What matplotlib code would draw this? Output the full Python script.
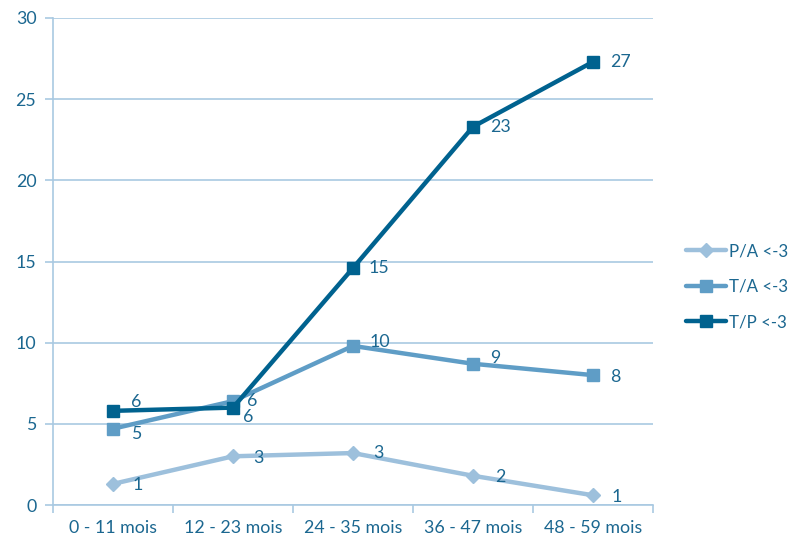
import matplotlib
matplotlib.use("Agg")
import matplotlib.pyplot as plt

categories = ["0 - 11 mois", "12 - 23 mois", "24 - 35 mois", "36 - 47 mois", "48 - 59 mois"]
series_names = ["P/A <-3", "T/A <-3", "T/P <-3"]
pa_values = [1.3, 3.0, 3.2, 1.8, 0.6]
ta_values = [4.7, 6.4, 9.8, 8.7, 8.0]
tp_values = [5.8, 6.0, 14.6, 23.3, 27.3]
y_ticks = [0, 5, 10, 15, 20, 25, 30]

plt.rcParams["font.family"] = ["Lato", "DejaVu Sans"]

text_color = "#1b6790"
grid_color = "#a9c9e2"
colors = ["#9dc0dc", "#5f9dc6", "#00628f"]
markers = ["D", "s", "s"]
marker_sizes = [7.5, 8, 8]
fs = 12.8
legend_fs = 12.2

# label offsets (points) per series / point
offsets = [
    [(18, -1), (18, -1), (18, 0), (20, -1), (17, -1)],
    [(17, -4), (14, 0), (19, 3), (16, 4), (16, -1)],
    [(17, 6.5), (11, -7), (19, 0), (19.5, 0), (19.5, 0)],
]

fig = plt.figure(figsize=(7.92, 5.42), dpi=100)
ax = fig.add_axes([53 / 792, 37 / 542, 600 / 792, 487 / 542])

x = list(range(len(categories)))
all_values = [pa_values, ta_values, tp_values]
for name, vals, c, m, ms, offs in zip(series_names, all_values, colors, markers, marker_sizes, offsets):
    ax.plot(x, vals, color=c, lw=3.2, marker=m, markersize=ms, label=name,
            solid_capstyle="round", zorder=3)
    for xi, v, (dx, dy) in zip(x, vals, offs):
        ax.annotate(f"{v:.0f}", (xi, v), xytext=(dx, dy), textcoords="offset points",
                    ha="center", va="center", fontsize=fs, color=text_color, zorder=4)

ax.set_xlim(-0.5, len(categories) - 0.5)
ax.set_ylim(0, 30)
ax.set_yticks(y_ticks)
ax.set_xticks(x)
ax.set_xticklabels(categories)
ax.set_xticks([i - 0.5 for i in range(len(categories) + 1)], minor=True)

ax.grid(axis="y", color=grid_color, lw=1.2, zorder=0)
for s in ["top", "right"]:
    ax.spines[s].set_visible(False)
for s in ["left", "bottom"]:
    ax.spines[s].set_color(grid_color)
    ax.spines[s].set_linewidth(1.2)

ax.tick_params(axis="y", length=6, width=1.2, color=grid_color, labelcolor=text_color,
               labelsize=fs, pad=6)
ax.tick_params(axis="x", which="major", length=0, labelcolor=text_color, labelsize=fs, pad=11)
ax.tick_params(axis="x", which="minor", length=6, width=1.2, color=grid_color)

leg = fig.legend(loc="upper left", bbox_to_anchor=(671 / 792, 1 - 228 / 542), frameon=False,
                 fontsize=legend_fs, labelcolor=text_color, handlelength=2.35, handletextpad=0.15,
                 labelspacing=1.15)

fig.savefig("out.png", dpi=100)
